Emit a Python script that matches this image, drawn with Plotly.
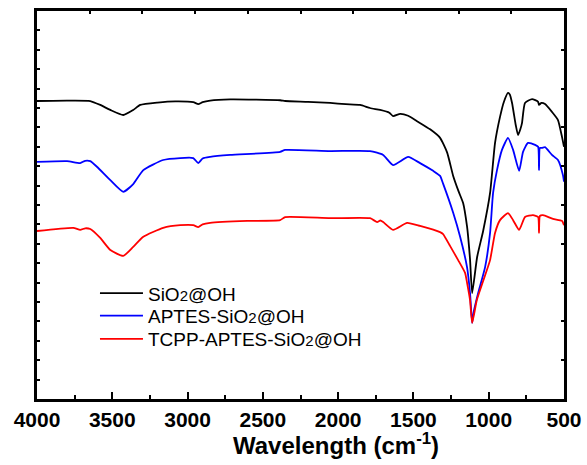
import plotly.graph_objects as go

# Wavenumber (cm-1) and transmittance (a.u.)
sio2_x = [4000, 3800, 3646, 3580, 3513, 3427, 3361, 3314, 3200, 3082, 2962, 2929, 2900, 2850,
          2717, 2385, 2352, 2200, 2053, 1950, 1854, 1788, 1721, 1660, 1635, 1588, 1535, 1476,
          1389, 1323, 1276, 1236, 1200, 1170, 1144, 1137, 1124, 1110, 1077, 1037, 991, 958,
          925, 900, 872, 860, 845, 820, 805, 790, 779, 759, 712, 672, 666, 650, 626, 580, 540,
          513, 500]
sio2_y = [76.8, 76.9, 76.8, 75.8, 74.5, 73.2, 74.5, 75.8, 76.4, 76.7, 76.5, 76.0, 76.5, 76.9,
          77.2, 77.0, 76.8, 76.6, 76.3, 76.0, 75.8, 75.0, 74.5, 73.8, 72.9, 73.5, 73.0, 71.6,
          69.5, 67.3, 63.5, 57.5, 53.5, 50.5, 44.5, 42.0, 36.0, 27.3, 36.6, 43.3, 53.1, 66.0,
          72.7, 76.5, 78.9, 78.5, 76.3, 70.5, 68.0, 69.5, 71.1, 76.3, 77.3, 76.6, 75.8, 76.3,
          76.0, 74.0, 71.9, 67.5, 65.0]

aptes_x = [4000, 3800, 3713, 3680, 3646, 3600, 3513, 3427, 3361, 3294, 3162, 3049, 2962, 2929,
           2900, 2850, 2717, 2385, 2352, 2053, 1788, 1701, 1635, 1535, 1456, 1369, 1323, 1303,
           1236, 1190, 1144, 1124, 1110, 1101, 1070, 1024, 991, 971, 945, 912, 872, 838, 798,
           772, 739, 692, 672, 666, 660, 646, 626, 580, 540, 507, 500]
aptes_y = [61.1, 61.3, 60.8, 61.4, 61.3, 59.8, 56.4, 53.4, 55.4, 59.0, 61.6, 62.1, 62.1, 60.8,
           62.0, 62.4, 62.9, 63.7, 64.2, 63.9, 63.9, 62.9, 60.3, 62.4, 60.8, 58.8, 57.5, 55.5,
           48.0, 41.8, 34.0, 27.3, 19.6, 22.2, 27.3, 34.0, 42.8, 53.1, 59.0, 64.2, 67.3, 64.2,
           58.8, 63.7, 66.0, 65.5, 65.0, 59.0, 64.7, 64.7, 64.9, 62.9, 61.6, 57.7, 56.0]

tcpp_x = [4000, 3759, 3713, 3680, 3646, 3580, 3513, 3427, 3361, 3294, 3162, 3049, 2962, 2929,
          2900, 2850, 2604, 2385, 2352, 2053, 1788, 1741, 1720, 1701, 1635, 1542, 1456, 1323,
          1303, 1256, 1203, 1157, 1144, 1124, 1110, 1079, 1037, 991, 958, 925, 872, 838, 798,
          759, 706, 672, 666, 660, 639, 573, 513, 500]
tcpp_y = [43.3, 44.1, 43.6, 44.0, 43.8, 41.5, 38.4, 36.9, 39.2, 41.8, 44.1, 44.8, 44.8, 44.3,
          45.0, 45.4, 45.9, 46.1, 46.9, 46.6, 46.6, 45.6, 46.0, 45.6, 43.6, 45.4, 44.6, 43.0,
          42.5, 39.4, 35.8, 32.5, 30.0, 25.5, 19.6, 25.5, 30.4, 35.8, 42.8, 46.1, 47.9, 46.1,
          43.6, 46.9, 47.4, 46.9, 42.8, 47.2, 47.4, 46.4, 45.9, 44.8]

names = ["SiO<span style='font-size:15px'>2</span>@OH",
         "APTES-SiO<span style='font-size:15px'>2</span>@OH",
         "TCPP-APTES-SiO<span style='font-size:15px'>2</span>@OH"]
colors = ["#000000", "#0000FF", "#FF0000"]

x_ticks = [4000, 3500, 3000, 2500, 2000, 1500, 1000, 500]
x_title = "<b>Wavelength (cm<sup>-1</sup>)</b>"

FONT = "Liberation Sans, Arial, sans-serif"

fig = go.Figure()
series = [(sio2_x, sio2_y), (aptes_x, aptes_y), (tcpp_x, tcpp_y)]
legend_ids = ["legend", "legend2", "legend3"]
for (xs, ys), nm, c, lg in zip(series, names, colors, legend_ids):
    fig.add_trace(go.Scatter(x=xs, y=ys, mode="lines", name=nm, legend=lg,
                             line=dict(color=c, width=1.8, shape="spline", smoothing=0.5)))

# invisible trace to activate the secondary (top/right) frame axes
fig.add_trace(go.Scatter(x=[4000, 500], y=[0, 100], xaxis="x2", yaxis="y2", mode="lines",
                         line=dict(width=0), opacity=0, showlegend=False, hoverinfo="skip"))

def leg(ypos):
    return dict(x=0.11, y=ypos, xanchor="left", yanchor="middle",
                bgcolor="rgba(0,0,0,0)", borderwidth=0,
                font=dict(size=19, family=FONT, color="black"), itemwidth=43)

frame = dict(showline=True, linewidth=3, linecolor="black", showgrid=False,
             zeroline=False, automargin=False, tickcolor="black")

fig.update_layout(
    width=587, height=465,
    margin=dict(l=37, r=23, t=11, b=66, autoexpand=False),
    paper_bgcolor="white", plot_bgcolor="white",
    font=dict(family=FONT, color="black"),
    showlegend=True,
    legend=leg(0.2724), legend2=leg(0.2147), legend3=leg(0.1546),
    xaxis=dict(range=[4000, 500], tickvals=x_ticks, ticks="inside", ticklen=7, tickwidth=2,
               tickfont=dict(size=21, family=FONT, weight="bold"),
               minor=dict(dtick=250, ticks="inside", ticklen=4, tickwidth=2, tickcolor="black"),
               **frame),
    yaxis=dict(range=[0, 100], dtick=5, ticks="inside", ticklen=3, tickwidth=1.5,
               showticklabels=False, **frame),
    xaxis2=dict(range=[4000, 500], overlaying="x", side="top", dtick=350, tick0=4000,
                ticks="inside", ticklen=3, tickwidth=1.5, showticklabels=False, **frame),
    yaxis2=dict(range=[0, 100], overlaying="y", side="right", dtick=10, ticks="inside",
                ticklen=3, tickwidth=1.5, showticklabels=False, **frame),
    annotations=[dict(text=x_title, xref="paper", yref="paper", x=0.567, y=0,
                      xanchor="center", yanchor="middle", yshift=-45, showarrow=False,
                      font=dict(size=24, family=FONT, color="black"))],
)

fig.write_html("out.html", config={"displayModeBar": False},
               post_script="document.documentElement.style.overflow='hidden';"
                           "document.body.style.margin='0';document.body.style.overflow='hidden';")
